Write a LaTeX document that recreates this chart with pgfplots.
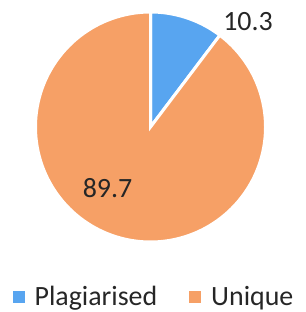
\documentclass[border=0pt]{standalone}
\usepackage{fontspec}
\setmainfont{Carlito}
\usepackage{pgfplots}
\pgfplotsset{compat=1.18}
\definecolor{cBlue}{RGB}{88,165,240}
\definecolor{cOrange}{RGB}{246,160,102}
\definecolor{cText}{RGB}{38,38,38}
\begin{document}
\begin{tikzpicture}
% data (percent)
\def\pA{10.3}
\def\pB{89.7}
\pgfmathsetmacro\aA{3.6*\pA}
\def\cx{150.5}
\def\cy{185}
\def\r{115}
\begin{axis}[
  scale only axis, width=306bp, height=312bp,
  xmin=0, xmax=306, ymin=0, ymax=312,
  hide axis, clip=false,
  legend columns=2,
  legend style={draw=none, fill=none, at={(axis cs:154,15)}, anchor=center,
    font=\fontsize{28}{30}\selectfont, text=cText,
    /tikz/every even column/.append style={column sep=30bp},
    cells={anchor=west}},
]
\addplot[fill=cBlue, draw=white, line width=3bp, domain=0:\aA, samples=80, variable=\t,
  legend image code/.code={\fill[draw=none, cBlue] (0bp,-6bp) rectangle (12bp,6bp); \path[draw=none, fill=none] (0bp,0bp) -- (20bp,0bp);}]
  ({\cx+\r*sin(\t)}, {\cy+\r*cos(\t)}) -- (axis cs:\cx,\cy) -- cycle;
\addlegendentry{Plagiarised}
\addplot[fill=cOrange, draw=white, line width=3bp, domain=\aA:360, samples=300, variable=\t,
  legend image code/.code={\fill[draw=none, cOrange] (0bp,-6bp) rectangle (12bp,6bp); \path[draw=none, fill=none] (0bp,0bp) -- (20bp,0bp);}]
  ({\cx+\r*sin(\t)}, {\cy+\r*cos(\t)}) -- (axis cs:\cx,\cy) -- cycle;
\addlegendentry{Unique}
\node[text=cText, font=\fontsize{28}{30}\selectfont] at (axis cs:248,290) {\pA};
\node[text=cText, font=\fontsize{28}{30}\selectfont] at (axis cs:107.5,124) {\pB};
\end{axis}
\useasboundingbox (0,0) rectangle (306bp,312bp);
\end{tikzpicture}
\end{document}
